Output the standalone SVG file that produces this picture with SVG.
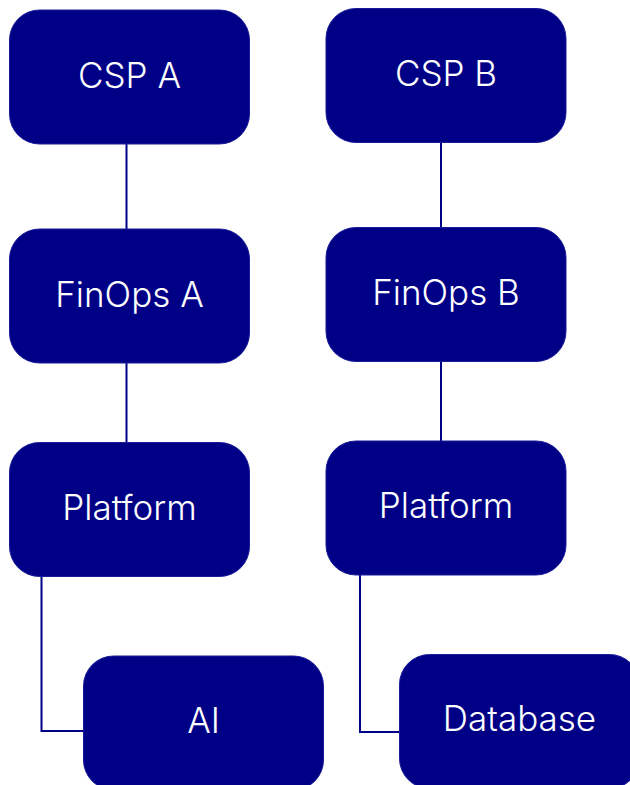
<svg xmlns="http://www.w3.org/2000/svg" width="630" height="785" viewBox="0 0 630 785">
<style>
.box{fill:#000087;stroke:#1a1a99;stroke-width:1}
.lbl{fill:#ffffff;font-family:Inter,"Noto Sans",sans-serif;font-size:35px;font-weight:300;text-anchor:middle}
.edge{fill:none;stroke:#000087;stroke-width:2}
</style>
<rect width="630" height="785" fill="#ffffff"/>
<g id="connectors">
<line class="edge" x1="126.5" y1="144" x2="126.5" y2="229"/>
<line class="edge" x1="126.5" y1="363" x2="126.5" y2="442"/>
<polyline class="edge" points="41.5,576 41.5,731 83.5,731"/>
<line class="edge" x1="441" y1="142" x2="441" y2="227.5"/>
<line class="edge" x1="441" y1="361.5" x2="441" y2="441"/>
<polyline class="edge" points="360,574.5 360,732 399.5,732"/>
</g>
<g id="cspA"><rect class="box" x="9.5" y="10" width="240" height="134" rx="30"/><text class="lbl" x="129.5" y="87.5">CSP A</text></g>
<g id="finopsA"><rect class="box" x="9.5" y="229" width="240" height="134" rx="30"/><text class="lbl" x="129.5" y="306.5">FinOps A</text></g>
<g id="platformA"><rect class="box" x="9.5" y="442.5" width="240" height="134" rx="30"/><text class="lbl" x="129.5" y="520">Platform</text></g>
<g id="ai"><rect class="box" x="83.5" y="656" width="240" height="134" rx="30"/><text class="lbl" x="203.5" y="733">AI</text></g>
<g id="cspB"><rect class="box" x="326" y="8.5" width="240" height="134" rx="30"/><text class="lbl" x="446" y="86">CSP B</text></g>
<g id="finopsB"><rect class="box" x="326" y="227.5" width="240" height="134" rx="30"/><text class="lbl" x="446" y="305">FinOps B</text></g>
<g id="platformB"><rect class="box" x="326" y="441" width="240" height="134" rx="30"/><text class="lbl" x="446" y="518">Platform</text></g>
<g id="database"><rect class="box" x="399.5" y="654.5" width="240" height="134" rx="30"/><text class="lbl" x="519.5" y="731">Database</text></g>
</svg>
